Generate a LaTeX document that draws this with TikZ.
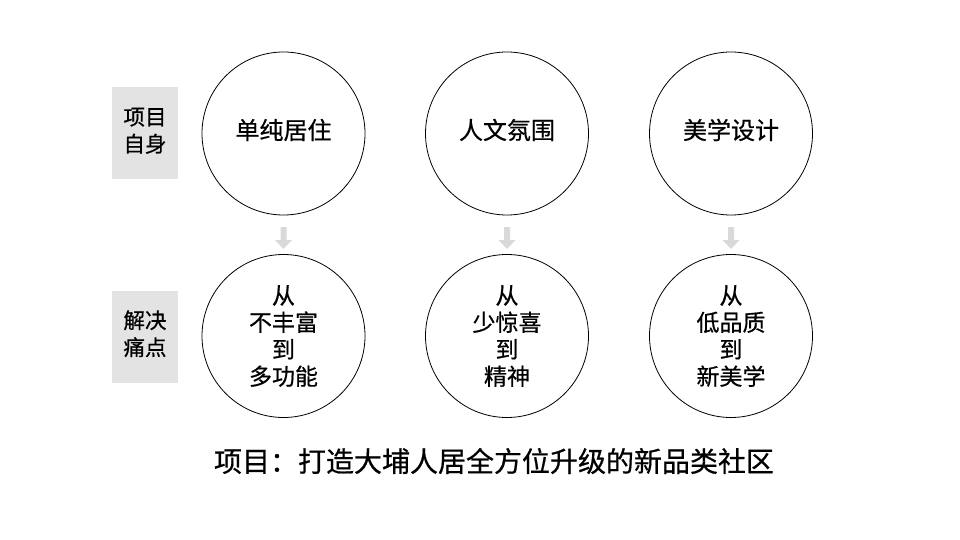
\documentclass[tikz,border=0pt]{standalone}
\usepackage{fontspec}
\setmainfont{Noto Sans CJK SC}[FakeBold=0.6]
\definecolor{boxgray}{HTML}{E3E3E3}
\definecolor{arrgray}{HTML}{D9D9D9}
\tikzset{
  circ/.style={circle, draw=black, line width=0.8pt, minimum size=163pt, inner sep=0pt, font=\fontsize{23}{27}\selectfont, align=center},
  topcirc/.style={circ, font=\fontsize{24}{27}\selectfont},
  side/.style={fill=boxgray, minimum width=66pt, minimum height=92pt, inner sep=0pt, font=\fontsize{21.5}{27}\selectfont, align=center},
  arrfill/.style={fill=arrgray, draw=none}
}
\newcommand{\downarr}[1]{%
  \fill[arrfill] ([xshift=-3pt]#1) -- ++(0,13) -- ++(-5.5,0) -- ++(8.5,9) -- ++(8.5,-9) -- ++(-5.5,0) -- ++(0,-13) -- cycle;}
\newcommand{\twolines}[2]{\raisebox{4.5pt}{\begin{tabular}{@{}c@{}}#1\\#2\end{tabular}}}
\begin{document}
\begin{tikzpicture}[x=1pt,y=-1pt]
\useasboundingbox (0,0) rectangle (960,540);
\node[side] (s1) at (145,133) {\twolines{项目}{自身}};
\node[side] (s2) at (145,336.5) {\twolines{解决}{痛点}};
\node[topcirc] (c1) at (283.5,133.5) {\raisebox{9pt}{单纯居住}};
\node[topcirc] (c2) at (507,133.5) {\raisebox{9pt}{人文氛围}};
\node[topcirc] (c3) at (731,133.5) {\raisebox{9pt}{美学设计}};
\node[circ] (d1) at (283.5,336) {从\\不丰富\\到\\多功能};
\node[circ] (d2) at (507,336) {从\\少惊喜\\到\\精神};
\node[circ] (d3) at (731,336) {从\\低品质\\到\\新美学};
\coordinate (a1) at (283.5,227);
\coordinate (a2) at (507,227);
\coordinate (a3) at (731,227);
\downarr{a1}
\downarr{a2}
\downarr{a3}
\node[font=\fontsize{28}{30}\selectfont] (t) at (494,461) {项目：打造大埔人居全方位升级的新品类社区};
\end{tikzpicture}
\end{document}
